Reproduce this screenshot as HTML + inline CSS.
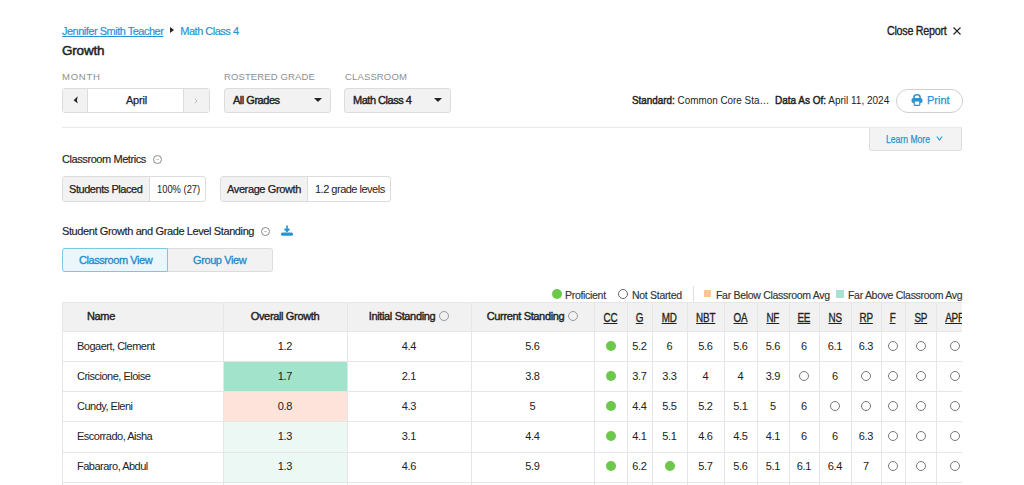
<!DOCTYPE html>
<html><head><meta charset="utf-8"><title>Growth Report</title>
<style>
*{margin:0;padding:0}
html,body{width:1024px;height:485px;overflow:hidden;background:#fff}
body{font-family:"Liberation Sans", Arial, sans-serif;color:#222;position:relative;font-size:11px;line-height:13px}
.a{position:absolute;white-space:nowrap}
.crumb{left:62px;top:25px;font-size:11px;color:#2a93d3;letter-spacing:-0.5px;-webkit-text-stroke:0.2px #2a93d3}
.crumb .t{text-decoration:underline;text-underline-offset:0.5px}
.crumb .sep{display:inline-block;width:0;height:0;border-top:3px solid transparent;border-bottom:3px solid transparent;border-left:4px solid #222;margin:0 6px 0 7px;position:relative;top:-2px}
.title{left:62px;top:44px;font-size:13.5px;color:#222;letter-spacing:-0.2px;-webkit-text-stroke:0.5px #222}
.lbl{top:70px;font-size:9.5px;color:#8f8f8f}
.box{position:absolute;top:88px;height:25px;box-sizing:border-box;border:1px solid #dcdcdc;border-radius:3px;background:#f2f2f2}
.dd{font-size:11px;color:#222;line-height:23px;padding-left:8px;letter-spacing:-0.48px;-webkit-text-stroke:0.4px #222}
.caret{position:absolute;right:8px;top:9px;width:0;height:0;border-left:4px solid transparent;border-right:4px solid transparent;border-top:4px solid #222}
.hr{position:absolute;left:62px;top:127px;width:900px;height:1px;background:#e9e9e9}
.close{left:887px;top:25px;font-size:12px;color:#222;letter-spacing:-0.3px;-webkit-text-stroke:0.35px #222;transform:scaleX(0.895);transform-origin:0 0}
.std{left:632px;top:94px;font-size:11px;color:#222;letter-spacing:-0.55px}
.print{position:absolute;left:896px;top:89px;width:67px;height:24px;box-sizing:border-box;border:1px solid #cfcfcf;border-radius:12px;background:#fff;color:#2a93d3;font-size:11px}
.learn{position:absolute;left:869px;top:128px;width:93px;height:23px;box-sizing:border-box;border:1px solid #dedede;border-top:none;border-radius:0 0 3px 3px;background:#f3f3f3;color:#2a93d3;font-size:10px}
.sec{font-size:11px;color:#222;-webkit-text-stroke:0.15px #222}
.info{display:inline-block;width:8px;height:8px;border:1px solid #888;border-radius:50%;vertical-align:middle;position:relative;top:-1px}
.mbox{position:absolute;top:176px;height:26px;box-sizing:border-box;border:1px solid #dcdcdc;border-radius:3px;background:#fff;overflow:hidden;font-size:11px;color:#222;line-height:24px}
.mbox .k{position:absolute;left:0;top:0;bottom:0;white-space:nowrap;background:#f2f2f2;border-right:1px solid #dcdcdc;box-sizing:border-box;-webkit-text-stroke:0.25px #222}
.mbox .v{position:absolute;top:0;bottom:0;white-space:nowrap}
.tog{position:absolute;top:248px;height:24px;box-sizing:border-box;font-size:11px;color:#2289cc;line-height:22px;-webkit-text-stroke:0.3px #2289cc}
.legend{top:288.5px;font-size:10.5px;color:#333;letter-spacing:-0.3px;-webkit-text-stroke:0.15px #333}
.hbg{position:absolute;background:#f1f1f1}
.cbg{position:absolute}
.hl{position:absolute;left:62px;width:900px;height:1px;background:#e6e6e6}
.vl{position:absolute;top:302px;width:1px;height:183px;background:#e6e6e6}
.th{position:absolute;top:302px;height:29px;line-height:29px;text-align:center;font-size:11px;color:#222;white-space:nowrap;overflow:hidden;letter-spacing:-0.35px;-webkit-text-stroke:0.4px #222}
.hi{margin-left:4px;border-color:#999}
.sb{-webkit-text-stroke:0.45px #222}
.dom u{display:inline-block;font-size:12px;transform:scaleX(0.82);transform-origin:50% 50%;text-underline-offset:0.5px;position:relative;top:1.5px;letter-spacing:-0.2px;-webkit-text-stroke:0.3px #222}
.td{position:absolute;height:30px;line-height:30px;text-align:center;font-size:11px;color:#222;white-space:nowrap;overflow:hidden;letter-spacing:-0.3px}
.nm{text-align:left;padding-left:15px;box-sizing:border-box;letter-spacing:-0.5px}
.dot{display:inline-block;width:10px;height:10px;border-radius:50%;background:#6cc84a;vertical-align:middle;position:relative;top:-1px}
.ring{display:inline-block;border-radius:50%;border:1px solid #777;box-sizing:border-box;vertical-align:middle;position:relative;top:-1px;width:10px;height:10px}
.ic{position:absolute;width:9px;height:9px;border:1px solid #888;border-radius:50%;box-sizing:border-box}
.ic i{position:absolute;left:2px;top:3px;width:3px;height:1px;background:#c8c8c8}
.clip{position:absolute;left:0;top:0;width:962px;height:485px;overflow:hidden}
</style></head><body>
<div class="a crumb"><span class="t">Jennifer Smith Teacher</span><span class="sep"></span>Math Class 4</div>
<div class="a title">Growth</div>
<div class="a close">Close Report</div>
<svg style="position:absolute;left:952px;top:26px" width="10" height="10" viewBox="0 0 10 10"><path d="M1.5 1.5L8.5 8.5M8.5 1.5L1.5 8.5" stroke="#222" stroke-width="1.1"/></svg>

<div class="a lbl" style="left:62px;letter-spacing:0.75px">MONTH</div>
<div class="a lbl" style="left:224px;letter-spacing:0.12px">ROSTERED GRADE</div>
<div class="a lbl" style="left:345px;letter-spacing:0.14px">CLASSROOM</div>

<div class="box" style="left:62px;width:148px;background:#fff">
  <div style="position:absolute;left:0;top:0;width:25px;height:23px;background:#f2f2f2;border-right:1px solid #dcdcdc;box-sizing:border-box"></div>
  <svg style="position:absolute;left:10px;top:7px" width="6" height="8" viewBox="0 0 6 8"><path d="M4.8 0.3L0.6 4.2L4.8 7.6L3.9 4.2Z" fill="#222"/></svg>
  <div style="position:absolute;left:26px;width:95px;top:0;line-height:23px;text-align:center;font-size:11px;color:#222;letter-spacing:-0.2px;-webkit-text-stroke:0.25px #222">April</div>
  <div style="position:absolute;right:0;top:0;width:26px;height:23px;background:#f2f2f2;border-left:1px solid #dcdcdc;box-sizing:border-box"></div>
  <svg style="position:absolute;left:131px;top:9px" width="4" height="6" viewBox="0 0 4 6"><path d="M1 0.8L3 3L1 5.2" fill="none" stroke="#bbb" stroke-width="1"/></svg>
</div>
<div class="box dd" style="left:224px;width:107px">All Grades<span class="caret"></span></div>
<div class="box dd" style="left:344px;width:107px">Math Class 4<span class="caret"></span></div>

<div class="a std" style="letter-spacing:0;transform:scaleX(0.898);transform-origin:0 0"><span class="sb">Standard:</span> Common Core Sta&#8230;</div>
<div class="a std" style="left:775px;letter-spacing:0;transform:scaleX(0.908);transform-origin:0 0"><span class="sb">Data As Of:</span> April 11, 2024</div>
<div class="print">
  <svg style="position:absolute;left:14px;top:4px" width="12" height="12" viewBox="0 0 12 12"><path d="M3 4.5V3A3 2.2 0 0 1 9 3V4.5" fill="none" stroke="#2a93d3" stroke-width="1.6"/><rect x="0.5" y="4" width="11" height="5" rx="2" fill="#2a93d3"/><rect x="3.2" y="7" width="5.6" height="4.3" rx="0.5" fill="#fff" stroke="#2a93d3" stroke-width="1.2"/></svg>
  <span style="position:absolute;left:30px;top:4px;-webkit-text-stroke:0.25px #2a93d3">Print</span>
</div>
<div class="hr"></div>
<div class="learn"><span style="position:absolute;left:16px;top:5px;font-size:10px;letter-spacing:0;-webkit-text-stroke:0.25px #2a93d3;transform:scaleX(0.86);transform-origin:0 0">Learn More</span>
<svg style="position:absolute;left:66px;top:8px" width="7" height="5" viewBox="0 0 7 5"><path d="M0.8 0.5L3.5 4L6.2 0.5" fill="none" stroke="#2a93d3" stroke-width="1.1"/></svg></div>

<div class="a sec" style="left:62px;top:153px;letter-spacing:-0.42px">Classroom Metrics</div>
<span class="ic" style="left:153px;top:155px"><i></i></span>
<div class="mbox" style="left:62px;width:144px"><div class="k" style="width:87px"><span style="position:absolute;left:6px;letter-spacing:-0.45px">Students Placed</span></div><div class="v" style="left:94px;transform:scaleX(0.85);transform-origin:0 0">100% (27)</div></div>
<div class="mbox" style="left:220px;width:171px"><div class="k" style="width:87px"><span style="position:absolute;left:6px;letter-spacing:-0.38px">Average Growth</span></div><div class="v" style="left:94px;letter-spacing:-0.5px">1.2 grade levels</div></div>

<div class="a sec" style="left:62px;top:225px;letter-spacing:-0.39px">Student Growth and Grade Level Standing</div>
<span class="ic" style="left:261px;top:227px"><i></i></span>
<svg style="position:absolute;left:281px;top:225px" width="12" height="11" viewBox="0 0 12 11"><path d="M6 0.5v5.5M3.6 3.8l2.4 2.4 2.4-2.4" fill="none" stroke="#2a93d3" stroke-width="1.7"/><rect x="0" y="7.6" width="12" height="3.2" rx="1.5" fill="#2a93d3"/></svg>
<div class="tog" style="left:62px;width:106px;background:#eaf6fb;border:1px solid #7cc6e6;border-radius:3px 0 0 3px"><span style="position:absolute;left:16px;letter-spacing:-0.43px">Classroom View</span></div>
<div class="tog" style="left:168px;width:105px;background:#f2f2f2;border:1px solid #dcdcdc;border-left:none;border-radius:0 3px 3px 0"><span style="position:absolute;left:25px;letter-spacing:-0.4px">Group View</span></div>

<span class="a" style="left:552px;top:289px;width:10px;height:10px;border-radius:50%;background:#6cc84a"></span>
<div class="a legend" style="left:565px">Proficient</div>
<span class="a" style="left:618px;top:289px;width:10px;height:10px;border-radius:50%;border:1px solid #666;box-sizing:border-box"></span>
<div class="a legend" style="left:632px">Not Started</div>
<span class="a" style="left:693px;top:286px;width:1px;height:16px;background:#ddd"></span>
<span class="a" style="left:704px;top:290px;width:7px;height:7px;background:#fbc58f"></span>
<div class="a legend" style="left:716px">Far Below Classroom Avg</div>
<span class="a" style="left:836px;top:290px;width:8px;height:8px;background:#a8e0d3"></span>
<div class="a legend" style="left:848px">Far Above Classroom Avg</div>

<div class="clip">
<div class="hbg" style="left:62px;top:302px;width:900px;height:29px"></div>
<div class="cbg" style="left:223px;top:361px;width:124px;height:30px;background:#a2e3cc"></div>
<div class="cbg" style="left:223px;top:391px;width:124px;height:30px;background:#fde3d9"></div>
<div class="cbg" style="left:223px;top:421px;width:124px;height:31px;background:#ebf8f3"></div>
<div class="cbg" style="left:223px;top:452px;width:124px;height:30px;background:#ebf8f3"></div>
<div class="hl" style="top:302px"></div>
<div class="hl" style="top:331px"></div>
<div class="hl" style="top:361px"></div>
<div class="hl" style="top:391px"></div>
<div class="hl" style="top:421px"></div>
<div class="hl" style="top:452px"></div>
<div class="hl" style="top:482px"></div>
<div class="vl" style="left:62px"></div>
<div class="vl" style="left:223px"></div>
<div class="vl" style="left:347px"></div>
<div class="vl" style="left:471px"></div>
<div class="vl" style="left:594px"></div>
<div class="vl" style="left:627px"></div>
<div class="vl" style="left:652px"></div>
<div class="vl" style="left:687px"></div>
<div class="vl" style="left:724px"></div>
<div class="vl" style="left:757px"></div>
<div class="vl" style="left:789px"></div>
<div class="vl" style="left:819px"></div>
<div class="vl" style="left:851px"></div>
<div class="vl" style="left:881px"></div>
<div class="vl" style="left:905px"></div>
<div class="vl" style="left:936px"></div>
<div class="th" style="left:62px;width:161px;text-align:left;padding-left:25px;box-sizing:border-box">Name</div>
<div class="th" style="left:223px;width:124px">Overall Growth</div>
<div class="th" style="left:347px;width:124px">Initial Standing<span class="info hi"></span></div>
<div class="th" style="left:471px;width:123px">Current Standing<span class="info hi"></span></div>
<div class="th dom" style="left:594px;width:33px"><u>CC</u></div>
<div class="th dom" style="left:627px;width:25px"><u>G</u></div>
<div class="th dom" style="left:652px;width:35px"><u>MD</u></div>
<div class="th dom" style="left:687px;width:37px"><u>NBT</u></div>
<div class="th dom" style="left:724px;width:33px"><u>OA</u></div>
<div class="th dom" style="left:757px;width:32px"><u>NF</u></div>
<div class="th dom" style="left:789px;width:30px"><u>EE</u></div>
<div class="th dom" style="left:819px;width:32px"><u>NS</u></div>
<div class="th dom" style="left:851px;width:30px"><u>RP</u></div>
<div class="th dom" style="left:881px;width:24px"><u>F</u></div>
<div class="th dom" style="left:905px;width:31px"><u>SP</u></div>
<div class="th dom" style="left:936px;width:38px"><u>APR</u></div>
<div class="td nm" style="left:62px;top:331px;width:161px">Bogaert, Clement</div>
<div class="td" style="left:223px;top:331px;width:124px">1.2</div>
<div class="td" style="left:347px;top:331px;width:124px">4.4</div>
<div class="td" style="left:471px;top:331px;width:123px">5.6</div>
<div class="td" style="left:594px;top:331px;width:33px"><span class="dot"></span></div>
<div class="td" style="left:627px;top:331px;width:25px">5.2</div>
<div class="td" style="left:652px;top:331px;width:35px">6</div>
<div class="td" style="left:687px;top:331px;width:37px">5.6</div>
<div class="td" style="left:724px;top:331px;width:33px">5.6</div>
<div class="td" style="left:757px;top:331px;width:32px">5.6</div>
<div class="td" style="left:789px;top:331px;width:30px">6</div>
<div class="td" style="left:819px;top:331px;width:32px">6.1</div>
<div class="td" style="left:851px;top:331px;width:30px">6.3</div>
<div class="td" style="left:881px;top:331px;width:24px"><span class="ring"></span></div>
<div class="td" style="left:905px;top:331px;width:31px"><span class="ring"></span></div>
<div class="td" style="left:936px;top:331px;width:38px"><span class="ring"></span></div>
<div class="td nm" style="left:62px;top:361px;width:161px">Criscione, Eloise</div>
<div class="td" style="left:223px;top:361px;width:124px">1.7</div>
<div class="td" style="left:347px;top:361px;width:124px">2.1</div>
<div class="td" style="left:471px;top:361px;width:123px">3.8</div>
<div class="td" style="left:594px;top:361px;width:33px"><span class="dot"></span></div>
<div class="td" style="left:627px;top:361px;width:25px">3.7</div>
<div class="td" style="left:652px;top:361px;width:35px">3.3</div>
<div class="td" style="left:687px;top:361px;width:37px">4</div>
<div class="td" style="left:724px;top:361px;width:33px">4</div>
<div class="td" style="left:757px;top:361px;width:32px">3.9</div>
<div class="td" style="left:789px;top:361px;width:30px"><span class="ring"></span></div>
<div class="td" style="left:819px;top:361px;width:32px">6</div>
<div class="td" style="left:851px;top:361px;width:30px"><span class="ring"></span></div>
<div class="td" style="left:881px;top:361px;width:24px"><span class="ring"></span></div>
<div class="td" style="left:905px;top:361px;width:31px"><span class="ring"></span></div>
<div class="td" style="left:936px;top:361px;width:38px"><span class="ring"></span></div>
<div class="td nm" style="left:62px;top:391px;width:161px">Cundy, Eleni</div>
<div class="td" style="left:223px;top:391px;width:124px">0.8</div>
<div class="td" style="left:347px;top:391px;width:124px">4.3</div>
<div class="td" style="left:471px;top:391px;width:123px">5</div>
<div class="td" style="left:594px;top:391px;width:33px"><span class="dot"></span></div>
<div class="td" style="left:627px;top:391px;width:25px">4.4</div>
<div class="td" style="left:652px;top:391px;width:35px">5.5</div>
<div class="td" style="left:687px;top:391px;width:37px">5.2</div>
<div class="td" style="left:724px;top:391px;width:33px">5.1</div>
<div class="td" style="left:757px;top:391px;width:32px">5</div>
<div class="td" style="left:789px;top:391px;width:30px">6</div>
<div class="td" style="left:819px;top:391px;width:32px"><span class="ring"></span></div>
<div class="td" style="left:851px;top:391px;width:30px"><span class="ring"></span></div>
<div class="td" style="left:881px;top:391px;width:24px"><span class="ring"></span></div>
<div class="td" style="left:905px;top:391px;width:31px"><span class="ring"></span></div>
<div class="td" style="left:936px;top:391px;width:38px"><span class="ring"></span></div>
<div class="td nm" style="left:62px;top:421px;width:161px">Escorrado, Aisha</div>
<div class="td" style="left:223px;top:421px;width:124px">1.3</div>
<div class="td" style="left:347px;top:421px;width:124px">3.1</div>
<div class="td" style="left:471px;top:421px;width:123px">4.4</div>
<div class="td" style="left:594px;top:421px;width:33px"><span class="dot"></span></div>
<div class="td" style="left:627px;top:421px;width:25px">4.1</div>
<div class="td" style="left:652px;top:421px;width:35px">5.1</div>
<div class="td" style="left:687px;top:421px;width:37px">4.6</div>
<div class="td" style="left:724px;top:421px;width:33px">4.5</div>
<div class="td" style="left:757px;top:421px;width:32px">4.1</div>
<div class="td" style="left:789px;top:421px;width:30px">6</div>
<div class="td" style="left:819px;top:421px;width:32px">6</div>
<div class="td" style="left:851px;top:421px;width:30px">6.3</div>
<div class="td" style="left:881px;top:421px;width:24px"><span class="ring"></span></div>
<div class="td" style="left:905px;top:421px;width:31px"><span class="ring"></span></div>
<div class="td" style="left:936px;top:421px;width:38px"><span class="ring"></span></div>
<div class="td nm" style="left:62px;top:451px;width:161px">Fabararo, Abdul</div>
<div class="td" style="left:223px;top:451px;width:124px">1.3</div>
<div class="td" style="left:347px;top:451px;width:124px">4.6</div>
<div class="td" style="left:471px;top:451px;width:123px">5.9</div>
<div class="td" style="left:594px;top:451px;width:33px"><span class="dot"></span></div>
<div class="td" style="left:627px;top:451px;width:25px">6.2</div>
<div class="td" style="left:652px;top:451px;width:35px"><span class="dot"></span></div>
<div class="td" style="left:687px;top:451px;width:37px">5.7</div>
<div class="td" style="left:724px;top:451px;width:33px">5.6</div>
<div class="td" style="left:757px;top:451px;width:32px">5.1</div>
<div class="td" style="left:789px;top:451px;width:30px">6.1</div>
<div class="td" style="left:819px;top:451px;width:32px">6.4</div>
<div class="td" style="left:851px;top:451px;width:30px">7</div>
<div class="td" style="left:881px;top:451px;width:24px"><span class="ring"></span></div>
<div class="td" style="left:905px;top:451px;width:31px"><span class="ring"></span></div>
<div class="td" style="left:936px;top:451px;width:38px"><span class="ring"></span></div>
<div class="td nm" style="left:62px;top:481px;width:161px">Garrison, Bella</div>
<div class="td" style="left:223px;top:481px;width:124px">1.1</div>
<div class="td" style="left:347px;top:481px;width:124px">3.9</div>
<div class="td" style="left:471px;top:481px;width:123px">5</div>
<div class="td" style="left:594px;top:481px;width:33px"><span class="dot"></span></div>
<div class="td" style="left:627px;top:481px;width:25px">5</div>
<div class="td" style="left:652px;top:481px;width:35px">5.2</div>
<div class="td" style="left:687px;top:481px;width:37px">5.1</div>
<div class="td" style="left:724px;top:481px;width:33px">4.8</div>
<div class="td" style="left:757px;top:481px;width:32px">5.3</div>
<div class="td" style="left:789px;top:481px;width:30px">6</div>
<div class="td" style="left:819px;top:481px;width:32px">6</div>
<div class="td" style="left:851px;top:481px;width:30px">6.1</div>
<div class="td" style="left:881px;top:481px;width:24px"><span class="ring"></span></div>
<div class="td" style="left:905px;top:481px;width:31px"><span class="ring"></span></div>
<div class="td" style="left:936px;top:481px;width:38px"><span class="ring"></span></div>
</div>
</body></html>
